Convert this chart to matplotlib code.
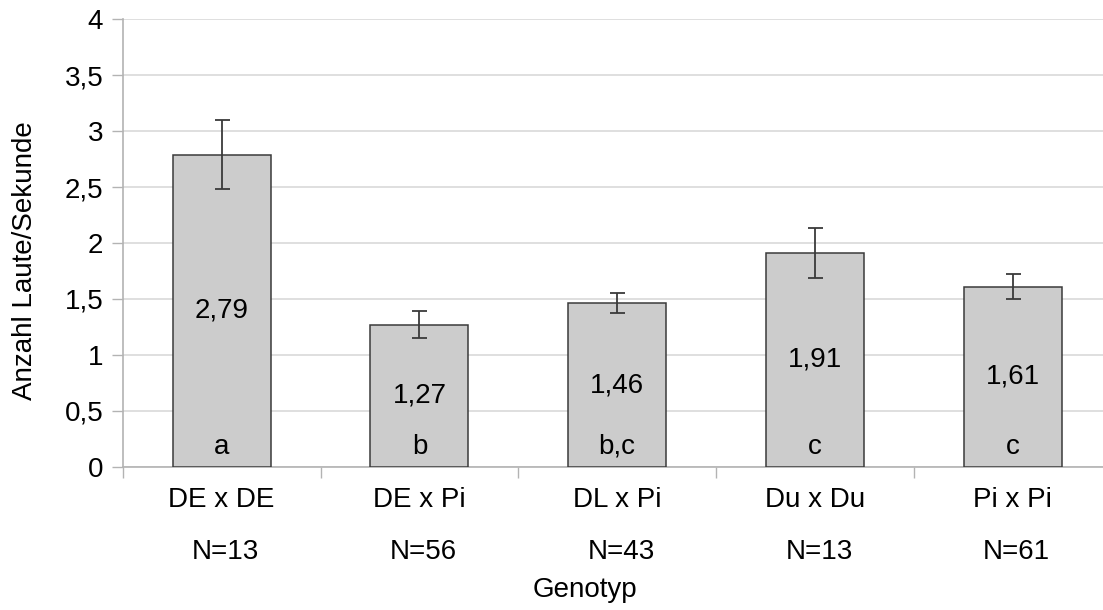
import matplotlib
matplotlib.use("Agg")
import matplotlib.pyplot as plt
import numpy as np

plt.rcParams['font.family'] = ['Liberation Sans', 'DejaVu Sans']

categories = ["DE x DE", "DE x Pi", "DL x Pi", "Du x Du", "Pi x Pi"]
n_labels = ["N=13", "N=56", "N=43", "N=13", "N=61"]
means = [2.79, 1.27, 1.46, 1.91, 1.61]
errors = [0.31, 0.12, 0.09, 0.22, 0.11]
value_labels = ["2,79", "1,27", "1,46", "1,91", "1,61"]
letters = ["a", "b", "b,c", "c", "c"]
yticks = [0, 0.5, 1, 1.5, 2, 2.5, 3, 3.5, 4]
ytick_labels = ["0", "0,5", "1", "1,5", "2", "2,5", "3", "3,5", "4"]

W, H = 1103, 610
fig = plt.figure(figsize=(W / 100, H / 100), dpi=100)
ax = fig.add_axes([122.7 / W, (H - 466.7) / H, 5 * 197.8 / W, (466.7 - 19.3) / H])

x = np.arange(len(categories))
ax.bar(x, means, width=0.495, color="#cccccc", edgecolor="#3a3a3a", linewidth=1.1, zorder=3)
ax.errorbar(x, means, yerr=errors, fmt="none", ecolor="#3a3a3a", elinewidth=1.3,
            capsize=5.4, capthick=1.3, zorder=4)

fs = 20
for xi, m, vl, lt in zip(x, means, value_labels, letters):
    ax.text(xi, m / 2, vl, ha="center", va="center", fontsize=fs, color="#000000", zorder=5)
    ax.text(xi, 0.18, lt, ha="center", va="center", fontsize=fs, color="#000000", zorder=5)

tr = ax.get_xaxis_transform()
for xi, c, n in zip(x, categories, n_labels):
    ax.text(xi, -0.0744, c, transform=tr, ha="center", va="center", fontsize=fs)
    ax.text(xi + 0.02, -0.19, n, transform=tr, ha="center", va="center", fontsize=fs)

ax.set_xlim(-0.5, 4.5)
ax.set_ylim(0, 4)
ax.set_yticks(yticks)
ax.set_yticklabels(ytick_labels, fontsize=fs)
ax.set_xticks(np.arange(-0.5, 5.0, 1.0))
ax.set_xticklabels([])
ax.tick_params(axis="x", length=8, width=1, color="#b3b3b3", direction="out")
ax.tick_params(axis="y", length=8, width=1, color="#b3b3b3", direction="out", pad=6)

ax.grid(axis="y", color="#d9d9d9", linewidth=1.2, zorder=0)
ax.set_axisbelow(True)
for s in ["top", "right"]:
    ax.spines[s].set_visible(False)
for s in ["left", "bottom"]:
    ax.spines[s].set_color("#b3b3b3")
    ax.spines[s].set_linewidth(1.2)

fig.text(585 / W, 1 - 590 / H, "Genotyp", ha="center", va="center", fontsize=fs)
fig.text(25 / W, 1 - 261 / H, "Anzahl Laute/Sekunde", ha="center", va="center",
         rotation=90, fontsize=fs)

fig.savefig("out.png", dpi=100)
